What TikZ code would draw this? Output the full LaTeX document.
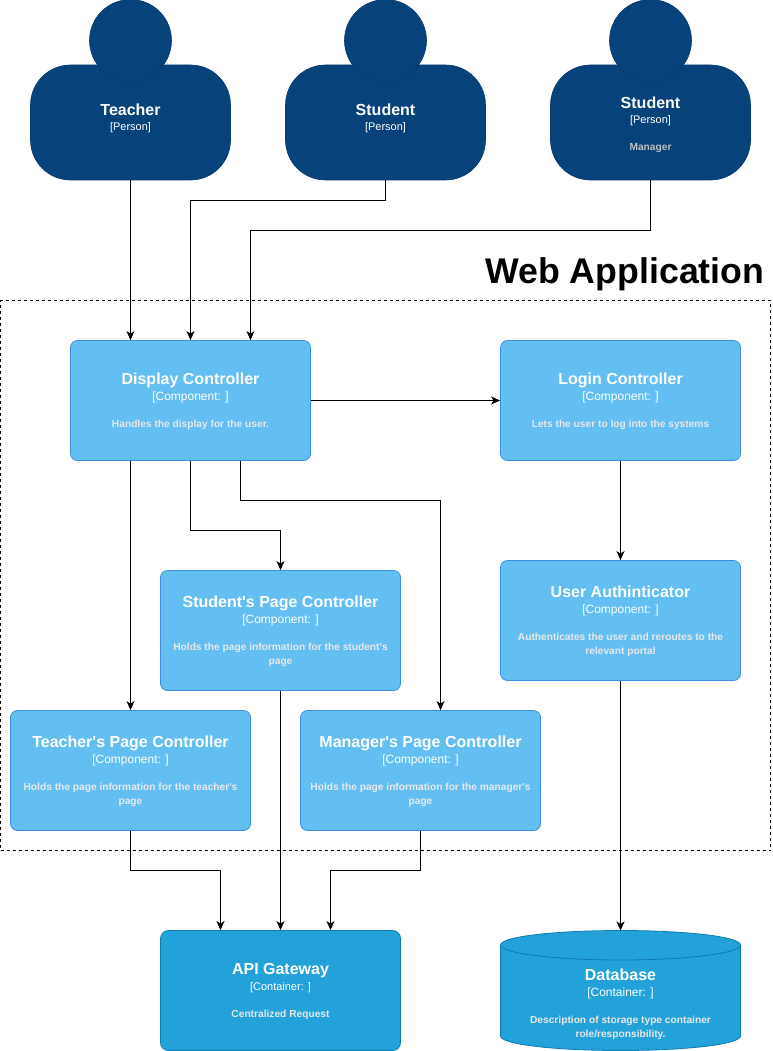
\documentclass[tikz,border=0pt]{standalone}
\usepackage{fontspec}
\setmainfont{Liberation Sans}
\usetikzlibrary{arrows.meta}
\definecolor{personc}{HTML}{08427B}
\definecolor{persons}{HTML}{073B6F}
\definecolor{compc}{HTML}{63BEF2}
\definecolor{comps}{HTML}{3C90DC}
\definecolor{contc}{HTML}{23A2D9}
\definecolor{conts}{HTML}{0E7DAD}
\definecolor{descc}{HTML}{E8E8E8}
\newcommand{\ttl}[1]{{\fontsize{16}{14}\selectfont\bfseries\rule{0pt}{13.5pt}#1}}
\newcommand{\sub}[1]{{\fontsize{12}{14}\selectfont #1}}
\newcommand{\subp}[1]{{\fontsize{11}{14}\selectfont #1}}
\newcommand{\dsc}[1]{{\fontsize{10.2}{14}\selectfont\bfseries\color{descc} #1}}
\tikzset{
  x=1pt,y=-1pt,
  box/.style={rounded corners=7pt,minimum width=240pt,minimum height=120pt,inner sep=0pt,text=white,align=center,line width=0.8pt,font=\fontsize{12}{14}\selectfont},
  comp/.style={box,draw=comps,fill=compc},
  cont/.style={box,draw=conts,fill=contc,rounded corners=8pt},
  body/.style={draw=persons,fill=personc,rounded corners=40pt,minimum width=200pt,minimum height=115pt,inner sep=0pt,line width=0.6pt},
  head/.style={circle,draw=persons,fill=personc,minimum size=82pt,inner sep=0pt,line width=0.6pt},
  ptext/.style={text=white,align=center,inner sep=0pt,anchor=base,font=\fontsize{12}{14}\selectfont},
  link/.style={draw=black,line width=1pt,-{Stealth[length=9pt,width=8pt,inset=2.5pt]}},
}
\begin{document}
\begin{tikzpicture}
\useasboundingbox (0,0) rectangle (772,1051);
% persons
\node[body] (tb) at (130.5,122.5) {};
\node[head] (th) at (130.5,40.5) {};
\node[ptext] (tt) at (130.5,131) {\ttl{Teacher}\\[1.5pt]\subp{[Person]}};
\node[body] (sb) at (385.5,122.5) {};
\node[head] (sh) at (385.5,40.5) {};
\node[ptext] (st) at (385.5,131) {\ttl{Student}\\[1.5pt]\subp{[Person]}};
\node[body] (mb) at (650.5,122.5) {};
\node[head] (mh) at (650.5,40.5) {};
\node[ptext] (mt) at (650.5,151) {\ttl{Student}\\[1.5pt]\subp{[Person]}\\[13pt]{\fontsize{10.2}{14}\selectfont\bfseries\color{black!25}Manager}};
% title
\node[inner sep=0pt,anchor=base east] (title) at (764.5,283) {\fontsize{35.7}{36}\selectfont\bfseries Web Application};
% boundary
\node[draw=black,dashed,line width=0.7pt,minimum width=770pt,minimum height=550pt,inner sep=0pt] (bound) at (385.5,575.5) {};
% components
\node[comp] (disp) at (190.5,400.5) {\ttl{Display Controller}\\[1.5pt]\sub{[Component: ]}\\[13.5pt]\dsc{Handles the display for the user.}};
\node[comp] (login) at (620.5,400.5) {\ttl{Login Controller}\\[1.5pt]\sub{[Component: ]}\\[13.5pt]\dsc{Lets the user to log into the systems}};
\node[comp] (spc) at (280.5,630.5) {\ttl{Student\textquotesingle s Page Controller}\\[1.5pt]\sub{[Component: ]}\\[13.5pt]\dsc{Holds the page information for the student\textquotesingle s}\\\dsc{page}};
\node[comp] (auth) at (620.5,620.5) {\ttl{User Authinticator}\\[1.5pt]\sub{[Component: ]}\\[13.5pt]\dsc{Authenticates the user and reroutes to the}\\\dsc{relevant portal}};
\node[comp] (tpc) at (130.5,770.5) {\ttl{Teacher\textquotesingle s Page Controller}\\[1.5pt]\sub{[Component: ]}\\[13.5pt]\dsc{Holds the page information for the teacher\textquotesingle s}\\\dsc{page}};
\node[comp] (mpc) at (420.5,770.5) {\ttl{Manager\textquotesingle s Page Controller}\\[1.5pt]\sub{[Component: ]}\\[13.5pt]\dsc{Holds the page information for the manager\textquotesingle s}\\\dsc{page}};
% container
\node[cont] (api) at (280.5,990.5) {\ttl{API Gateway}\\[1.5pt]\subp{[Container: ]}\\[13.5pt]\dsc{Centralized Request}};
% database
\path[draw=conts,fill=contc,line width=0.8pt] (500.5,945) .. controls (500.5,936.7) and (554.2,930.5) .. (620.5,930.5) .. controls (686.8,930.5) and (740.5,936.7) .. (740.5,945) -- (740.5,1036) .. controls (740.5,1044.3) and (686.8,1050.5) .. (620.5,1050.5) .. controls (554.2,1050.5) and (500.5,1044.3) .. (500.5,1036) -- cycle;
\draw[conts,line width=0.8pt] (500.5,945) .. controls (500.5,953.3) and (554.2,960) .. (620.5,960) .. controls (686.8,960) and (740.5,953.3) .. (740.5,945);
\coordinate (dbtop) at (620.5,930.5);
\node[ptext] (dbt) at (620.5,1037.5) {\ttl{Database}\\[1.5pt]\sub{[Container: ]}\\[13.5pt]\dsc{Description of storage type container}\\\dsc{role/responsibility.}};
% connectors
\draw[link] (tb.south) -- (disp.north -| tb.south);
\draw[link] (sb.south) -- ++(0,20) -| (disp.north);
\draw[link] (mb.south) -- ++(0,50) -| ([xshift=60pt]disp.north);
\draw[link] (disp.east) -- (login.west);
\draw[link] ([xshift=-60pt]disp.south) -- (tpc.north);
\draw[link] (disp.south) -- ++(0,70) -| (spc.north);
\draw[link] ([xshift=50pt]disp.south) -- ++(0,40) -| ([xshift=20pt]mpc.north);
\draw[link] (login.south) -- (auth.north);
\draw[link] (auth.south) -- (dbtop);
\draw[link] (tpc.south) -- ++(0,40) -| ([xshift=-60pt]api.north);
\draw[link] (spc.south) -- (api.north);
\draw[link] (mpc.south) -- ++(0,40) -| ([xshift=50pt]api.north);
\end{tikzpicture}
\end{document}
